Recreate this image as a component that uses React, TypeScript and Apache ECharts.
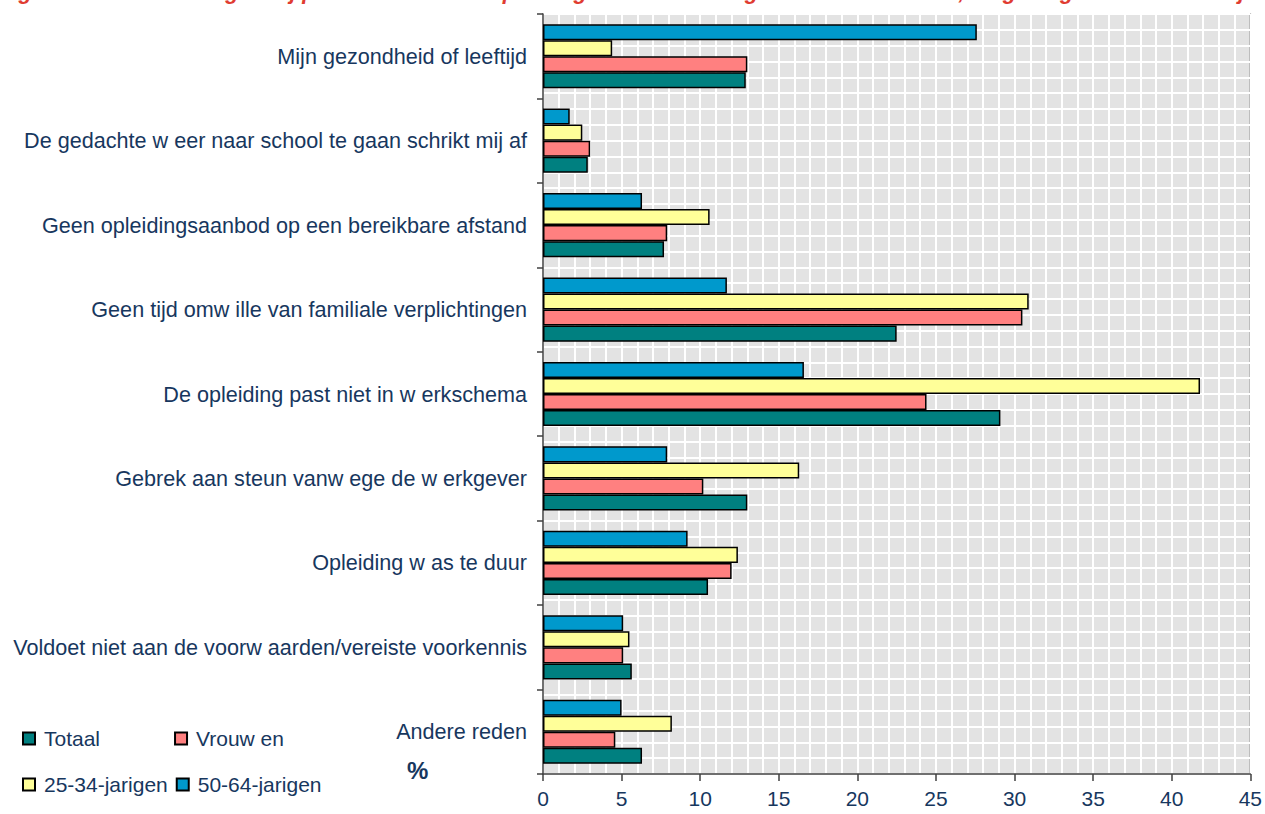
import React, { useEffect, useRef } from "react";
import * as echarts from "echarts";

const titleText =
  "Figuur 3: Belemmeringen bij personen die een opleiding wensten te volgen maar niet deden, volgens geslacht en leeftijd";

const categories = [
  "Andere reden",
  "Voldoet niet aan de voorw aarden/vereiste voorkennis",
  "Opleiding w as te duur",
  "Gebrek aan steun vanw ege de w erkgever",
  "De opleiding past niet in w erkschema",
  "Geen tijd omw ille van familiale verplichtingen",
  "Geen opleidingsaanbod op een bereikbare afstand",
  "De gedachte w eer naar school te gaan schrikt mij af",
  "Mijn gezondheid of leeftijd",
];

const seriesNames = ["Totaal", "Vrouw en", "25-34-jarigen", "50-64-jarigen"];

const totaal = [6.3, 5.65, 10.5, 13.0, 29.1, 22.5, 7.7, 2.85, 12.9];
const vrouwen = [4.6, 5.1, 12.0, 10.2, 24.4, 30.5, 7.9, 3.0, 13.0];
const jarigen2534 = [8.2, 5.5, 12.4, 16.3, 41.8, 30.9, 10.6, 2.5, 4.4];
const jarigen5064 = [5.0, 5.1, 9.2, 7.9, 16.6, 11.7, 6.3, 1.7, 27.6];

const xTicks = [0, 5, 10, 15, 20, 25, 30, 35, 40, 45];

const colors = ["#008080", "#FF8080", "#FFFF99", "#0099CC"];
const navy = "#17375E";
const font = "Arial, 'Liberation Sans', sans-serif";

export default function App() {
  const ref = useRef<HTMLDivElement>(null);

  useEffect(() => {
    if (!ref.current) return;
    const chart = echarts.init(ref.current, undefined, { renderer: "svg" });
    const data = [totaal, vrouwen, jarigen2534, jarigen5064];
    // drawn top-to-bottom within each group: 50-64, 25-34, Vrouwen, Totaal
    const order = [3, 2, 1, 0];
    const legendText = { color: navy, fontSize: 21, fontFamily: font, padding: [0, 0, 0, 4] };
    chart.setOption({
      animation: false,
      backgroundColor: "#ffffff",
      textStyle: { fontFamily: font },
      title: {
        text: titleText,
        left: -1,
        top: -20,
        padding: 0,
        textStyle: {
          color: "#E03C31",
          fontStyle: "italic",
          fontWeight: "bold",
          fontSize: 22,
          fontFamily: font,
        },
      },
      legend: [
        {
          data: [seriesNames[0], seriesNames[1]],
          left: 17,
          top: 723,
          itemWidth: 12,
          itemHeight: 12,
          itemGap: 74,
          icon: "rect",
          textStyle: legendText,
        },
        {
          data: [seriesNames[2], seriesNames[3]],
          left: 17,
          top: 769,
          itemWidth: 12,
          itemHeight: 12,
          itemGap: 8,
          icon: "rect",
          textStyle: legendText,
        },
      ],
      grid: {
        left: 543,
        right: 13,
        top: 14,
        bottom: 40,
        show: true,
        backgroundColor: "#E3E3E3",
        borderColor: "#8C8C8C",
        borderWidth: 1.5,
      },
      xAxis: {
        type: "value",
        min: xTicks[0],
        max: xTicks[xTicks.length - 1],
        interval: 5,
        axisLine: { show: true, lineStyle: { color: "#404040", width: 1.5 } },
        axisTick: { show: true, length: 7, lineStyle: { color: "#404040", width: 1.5 } },
        axisLabel: { color: navy, fontSize: 21, margin: 14, fontFamily: font },
        splitLine: { show: true, lineStyle: { color: "#FFFFFF", width: 2 } },
        minorTick: { show: false, splitNumber: 5 },
        minorSplitLine: { show: true, lineStyle: { color: "#FFFFFF", width: 2 } },
      },
      yAxis: [
        {
          type: "category",
          data: categories,
          axisLine: { show: true, lineStyle: { color: "#404040", width: 1.5 } },
          axisTick: { show: true, length: 6, lineStyle: { color: "#404040", width: 1.5 } },
          axisLabel: { color: navy, fontSize: 21.6, margin: 16, fontFamily: font },
          splitLine: { show: false },
        },
        {
          type: "value",
          min: 0,
          max: 48,
          interval: 1,
          position: "right",
          axisLine: { show: false },
          axisTick: { show: false },
          axisLabel: { show: false },
          splitLine: { show: true, lineStyle: { color: "#FFFFFF", width: 2 } },
        },
      ],
      series: order.map((i) => ({
        name: seriesNames[i],
        type: "bar",
        yAxisIndex: 0,
        data: data[i],
        barGap: "0%",
        barCategoryGap: "24%",
        itemStyle: { color: colors[i], borderColor: "#000000", borderWidth: 1.5 },
      })),
      graphic: [
        {
          type: "text",
          left: 407,
          top: 758,
          style: {
            text: "%",
            fill: navy,
            fontSize: 24,
            fontWeight: "bold",
            fontFamily: font,
          },
        },
      ],
    });
    return () => chart.dispose();
  }, []);

  return (
    <div
      ref={ref}
      style={{ position: "fixed", left: 0, top: 0, width: 1265, height: 814 }}
    />
  );
}
